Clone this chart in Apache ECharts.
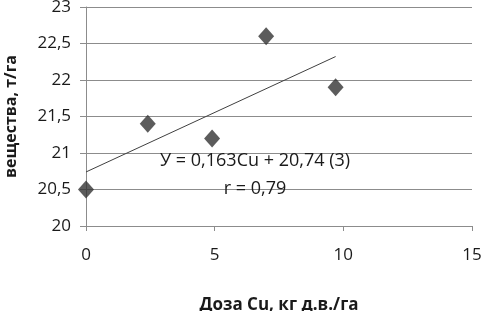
<!DOCTYPE html>
<html>
<head>
<meta charset="utf-8">
<script src="https://cdn.jsdelivr.net/npm/echarts@6/dist/echarts.min.js"></script>
<style>
  html, body { margin: 0; padding: 0; background: #fff; }
  #chart { width: 482px; height: 311px; }
</style>
</head>
<body>
<div id="chart"></div>
<script>
// доза Cu и урожай
var doseData = [0, 2.4, 4.9, 7.0, 9.7];
var yieldData = [20.5, 21.4, 21.2, 22.6, 21.9];
var trendX = [0, 9.7];
var slope = 0.163;
var intercept = 20.74;
var eqLabels = ['У = 0,163Cu + 20,74 (3)', 'r = 0,79'];

var font = '"Open Sans", "Noto Sans", sans-serif';

var chart = echarts.init(document.getElementById('chart'), null, { renderer: 'canvas' });

var points = doseData.map(function (d, i) {
  return [d, yieldData[i]];
});
var trend = trendX.map(function (x) {
  return [x, slope * x + intercept];
});

var fmt = function (v) {
  return String(v).replace('.', ',');
};

var option = {
  animation: false,
  backgroundColor: '#fff',
  grid: {
    left: 86,
    right: 10,
    top: 7,
    bottom: 85,
    containLabel: false,
    outerBoundsMode: 'none'
  },
  xAxis: {
    type: 'value',
    min: 0,
    max: 15,
    interval: 5,
    name: 'Доза Cu, кг д.в./га',
    nameLocation: 'middle',
    nameGap: 71,
    nameTextStyle: { fontFamily: font, fontSize: 17, fontWeight: 'bold', color: '#1a1a1a' },
    axisLine: { show: true, lineStyle: { color: '#8c8c8c' } },
    axisTick: { show: true, length: 5, lineStyle: { color: '#8c8c8c' } },
    splitLine: { show: false },
    axisLabel: { fontFamily: font, fontSize: 17, color: '#1a1a1a', margin: 21 }
  },
  yAxis: {
    type: 'value',
    min: 20,
    max: 23,
    interval: 0.5,
    name: 'вещества, т/га',
    nameLocation: 'middle',
    nameGap: 67,
    nameTextStyle: { fontFamily: font, fontSize: 16, fontWeight: 'bold', color: '#1a1a1a' },
    axisLine: { show: true, lineStyle: { color: '#8c8c8c' } },
    axisTick: { show: true, length: 6, lineStyle: { color: '#8c8c8c' } },
    splitLine: { show: true, lineStyle: { color: '#8c8c8c' } },
    axisLabel: { fontFamily: font, fontSize: 17, color: '#1a1a1a', margin: 15, formatter: fmt }
  },
  series: [
    {
      type: 'line',
      data: trend,
      symbol: 'none',
      lineStyle: { color: '#404040', width: 1 },
      z: 2,
      markPoint: {
        symbol: 'rect',
        symbolSize: 0,
        label: { show: true, fontFamily: font, fontSize: 18, color: '#1a1a1a' },
        data: [
          { coord: [6.57, 20.89], value: eqLabels[0], label: { formatter: eqLabels[0] } },
          { coord: [6.57, 20.51], value: eqLabels[1], label: { formatter: eqLabels[1] } }
        ]
      }
    },
    {
      type: 'scatter',
      data: points,
      symbol: 'diamond',
      symbolSize: [16, 18],
      itemStyle: { color: '#333333' },
      z: 3
    }
  ]
};

chart.setOption(option);
</script>
</body>
</html>
